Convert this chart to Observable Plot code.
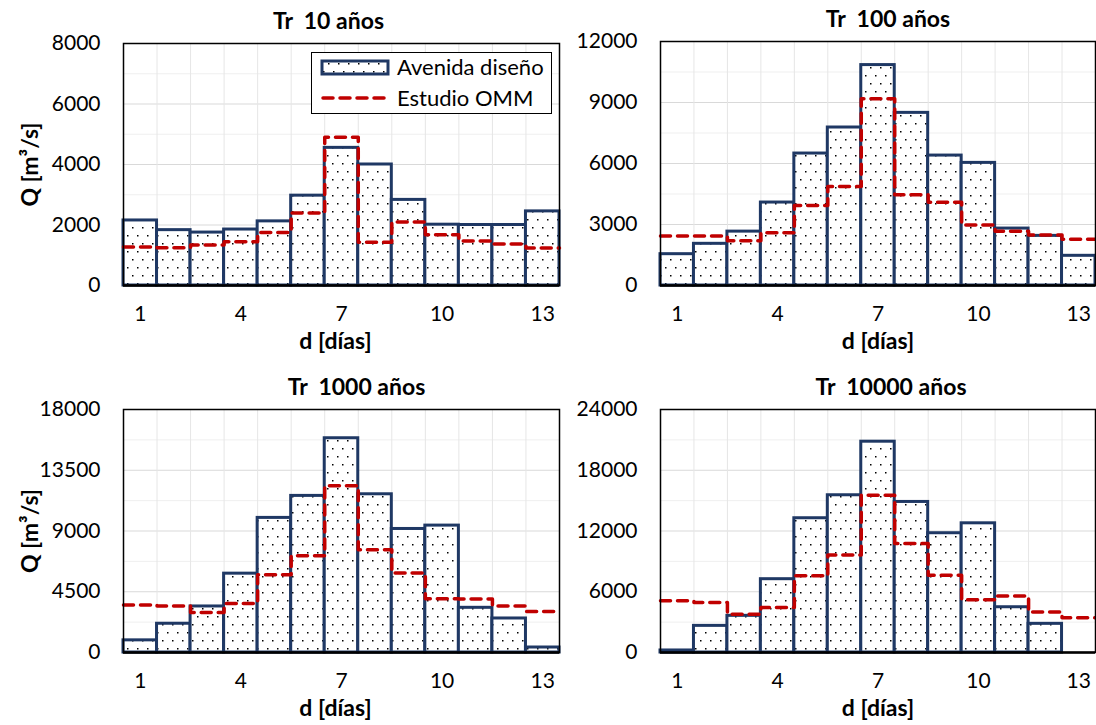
<!DOCTYPE html>
<html><head><meta charset="utf-8">
<script src="https://cdn.jsdelivr.net/npm/d3@7"></script>
<script src="https://cdn.jsdelivr.net/npm/@observablehq/plot@0.6"></script>
<style>
body{margin:0;background:#fff;font-family:Lato,"Open Sans",sans-serif;}
#wrap{position:relative;width:1096px;height:725px;overflow:hidden;}
.panel{position:absolute;}
.panel svg{overflow:visible;background:transparent;}
#legend{position:absolute;left:311px;top:52px;}
</style></head><body><div id="wrap"></div>
<script>
const days = [1,2,3,4,5,6,7,8,9,10,11,12,13];
const xTickLabels = [1,4,7,10,13];
const titles = ["Tr  10 años","Tr  100 años","Tr  1000 años","Tr  10000 años"];
const seriesNames = ["Avenida diseño","Estudio OMM"];
const yLabel = "Q [m³/s]";
const xLabel = "d [días]";

const avenida10    = [2150,1830,1750,1850,2120,2970,4550,4000,2830,2010,2000,2000,2450];
const omm10        = [1270,1250,1340,1450,1750,2400,4900,1430,2100,1680,1470,1370,1240];
const avenida100   = [1540,2050,2650,4080,6490,7770,10840,8490,6390,6030,2800,2440,1460];
const omm100       = [2430,2430,2200,2590,3930,4870,9180,4460,4100,2980,2670,2480,2280];
const avenida1000  = [900,2130,3410,5840,9970,11600,15870,11720,9150,9400,3310,2520,370];
const omm1000      = [3510,3440,2970,3630,5760,7170,12360,7620,5890,3980,3960,3440,3040];
const avenida10000 = [200,2630,3620,7240,13260,15530,20820,14870,11780,12760,4470,2830,0];
const omm10000     = [5100,4930,3780,4440,7570,9640,15530,10760,7630,5200,5590,4010,3420];

const yMax  = [8000,12000,18000,24000];
const yStep = [2000,3000,4500,6000];

const avenidas = [avenida10, avenida100, avenida1000, avenida10000];
const omms = [omm10, omm100, omm1000, omm10000];

const layout = [
  {left:0,   top:0,   width:560, height:365, mt:43, mb:80, ml:123, mr:1, tdx:-13, xdx:-6, ylab:true},
  {left:548, top:0,   width:548, height:365, mt:41, mb:80, ml:112, mr:1, tdx:10,  xdx:0,  ylab:false},
  {left:0,   top:365, width:560, height:360, mt:44, mb:73, ml:123, mr:1, tdx:15,  xdx:-6, ylab:true},
  {left:548, top:365, width:548, height:360, mt:44, mb:73, ml:112, mr:1, tdx:13,  xdx:0,  ylab:false}
];

const NAVY = "#1f3864", RED = "#c00000";
const FONT = "Lato, 'Open Sans', sans-serif";
const wrap = document.getElementById("wrap");

function buildPattern(defs, id){
  const p = defs.append("pattern").attr("id", id).attr("patternUnits","userSpaceOnUse")
    .attr("width", 10).attr("height", 16);
  p.append("rect").attr("width",10).attr("height",16).attr("fill","#fff");
  p.append("rect").attr("x",2).attr("y",3).attr("width",1.5).attr("height",1.5).attr("fill","#000");
  p.append("rect").attr("x",7).attr("y",11).attr("width",1.5).attr("height",1.5).attr("fill","#000");
}

layout.forEach((L, i) => {
  const rows = days.map((d, k) => ({day: d, q: avenidas[i][k], o: omms[i][k]}));
  const steps = rows.flatMap(r => [{x: r.day - 0.5, q: r.o}, {x: r.day + 0.5, q: r.o}]);
  const majors = d3.range(0, yMax[i] + 1, yStep[i]);
  const minors = d3.range(yStep[i] / 2, yMax[i], yStep[i]);
  const bounds = days.slice(0, -1).map(d => d + 0.5);
  const pid = "dots" + i;
  const marks = [
    Plot.gridY(minors, {stroke:"#efefef", strokeOpacity:1, strokeWidth:1}),
    Plot.gridY(majors, {stroke:"#d9d9d9", strokeOpacity:1, strokeWidth:1}),
    Plot.gridX(bounds, {stroke:"#e6e6e6", strokeOpacity:1, strokeWidth:1}),
    Plot.rectY(rows, {x1: d => d.day - 0.5, x2: d => d.day + 0.5, y: "q", fill: `url(#${pid})`, stroke: NAVY, strokeWidth: 3}),
    Plot.line(steps, {x:"x", y:"q", stroke: RED, strokeWidth: 3.5, strokeDasharray:"10,7", strokeLinecap:"round", strokeLinejoin:"round"}),
    Plot.frame({stroke:"#000", strokeWidth:1.5}),
    Plot.ruleY([0], {stroke:"#000", strokeWidth:2.5}),
    Plot.axisY({ticks: majors, tickSize:0, tickPadding:23, fontSize:21, label:null, tickFormat: d => String(d)}),
    Plot.axisX({ticks: xTickLabels, tickSize:0, tickPadding:21, fontSize:21, label:null, tickFormat: d => String(d)}),
    Plot.text([titles[i]], {text: d => d, frameAnchor:"top", dy:-22, dx:L.tdx, fontWeight:"bold", fontSize:23, lineAnchor:"middle"}),
    Plot.text([xLabel], {text: d => d, frameAnchor:"bottom", dy:56, dx:L.xdx, fontWeight:"bold", fontSize:23, lineAnchor:"middle"})
  ];
  if (L.ylab) marks.push(Plot.text([yLabel], {text: d => d, frameAnchor:"left", dx:-93, rotate:-90, fontWeight:"bold", fontSize:23, lineAnchor:"middle", textAnchor:"middle"}));
  const svg = Plot.plot({
    width: L.width, height: L.height,
    marginTop: L.mt, marginBottom: L.mb, marginLeft: L.ml, marginRight: L.mr,
    style: {fontFamily: FONT, fontSize: "20px", color: "#000", background: "transparent", overflow: "visible"},
    x: {type: "linear", domain: [days[0] - 0.5, days[days.length - 1] + 0.5]},
    y: {domain: [0, yMax[i]]},
    marks
  });
  buildPattern(d3.select(svg).insert("defs", ":first-child"), pid);
  const div = document.createElement("div");
  div.className = "panel";
  div.style.left = L.left + "px"; div.style.top = L.top + "px";
  div.appendChild(svg);
  wrap.appendChild(div);
});

// legend (first panel)
const lg = d3.select(wrap).append("svg").attr("id","legend").attr("width",241).attr("height",62)
  .style("font-family", FONT);
buildPattern(lg.append("defs"), "dotsL");
lg.append("rect").attr("x",0.5).attr("y",0.5).attr("width",240).attr("height",61).attr("fill","#fff").attr("stroke","#000").attr("stroke-width",1);
lg.append("rect").attr("x",11).attr("y",9).attr("width",66).attr("height",13).attr("fill","url(#dotsL)").attr("stroke",NAVY).attr("stroke-width",3);
lg.append("line").attr("x1",12).attr("x2",77).attr("y1",46).attr("y2",46).attr("stroke",RED).attr("stroke-width",3.5)
  .attr("stroke-dasharray","10,7").attr("stroke-linecap","round");
lg.append("text").attr("x",86).attr("y",15).attr("dy","0.35em").attr("font-size",22).text(seriesNames[0]);
lg.append("text").attr("x",86).attr("y",46).attr("dy","0.35em").attr("font-size",22).text(seriesNames[1]);
</script></body></html>
